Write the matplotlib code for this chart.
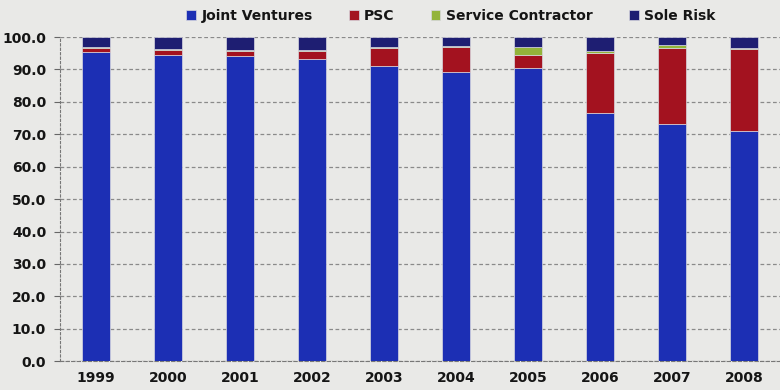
import matplotlib.pyplot as plt
import numpy as np

years = ["1999", "2000", "2001", "2002", "2003", "2004", "2005", "2006", "2007", "2008"]
joint_ventures = [95.3, 94.6, 94.0, 93.2, 91.2, 89.2, 90.5, 76.7, 73.3, 71.1]
psc = [1.4, 1.3, 1.6, 2.4, 5.4, 7.8, 4.0, 18.5, 23.4, 25.3]
service_contractor = [0.3, 0.5, 0.3, 0.3, 0.3, 0.2, 2.5, 0.5, 0.8, 0.2]
sole_risk = [3.0, 3.6, 4.1, 4.1, 3.1, 2.8, 3.0, 4.3, 2.5, 3.4]

series = [
    ("Joint Ventures", joint_ventures, "#1c2fb4"),
    ("PSC", psc, "#a3121f"),
    ("Service Contractor", service_contractor, "#93b43a"),
    ("Sole Risk", sole_risk, "#1e1e72"),
]

bg = "#e9e9e7"
fig = plt.figure(figsize=(7.8, 3.9), dpi=100, facecolor=bg)
ax = fig.add_axes([0.077, 0.074, 0.923, 0.831], facecolor=bg)

x = np.arange(len(years))
bottom = np.zeros(len(years))
for name, vals, col in series:
    ax.bar(x, vals, width=0.39, bottom=bottom, color=col, label=name,
           edgecolor="#d8d8e0", linewidth=0.5, zorder=3)
    bottom += np.array(vals)

ax.set_xlim(-0.5, len(years) - 0.5)
ax.set_ylim(0, 100)
ax.set_yticks(np.arange(0, 101, 10))
ax.set_yticklabels([f"{v:.1f}" for v in range(0, 101, 10)])
ax.set_xticks(x)
ax.set_xticklabels(years)
ax.yaxis.grid(True, linestyle=(0, (3, 2)), color="#8a8a8a", linewidth=0.9, zorder=0)

for lab in ax.get_yticklabels() + ax.get_xticklabels():
    lab.set_fontweight("bold")
    lab.set_fontsize(10)
    lab.set_color("#151515")
ax.tick_params(axis="x", length=0, pad=7)
ax.tick_params(axis="y", length=4, color="#666666", pad=6)

for side in ["top", "right"]:
    ax.spines[side].set_visible(False)
ax.spines["left"].set_linestyle((0, (2, 2)))
ax.spines["left"].set_color("#777777")
ax.spines["bottom"].set_linestyle((0, (3, 2)))
ax.spines["bottom"].set_color("#777777")

leg = fig.legend(loc="upper center", bbox_to_anchor=(0.578, 1.01), ncol=4,
                 frameon=False, handlelength=0.7, handleheight=0.7,
                 columnspacing=2.6, handletextpad=0.4,
                 prop={"weight": "bold", "size": 10})
for t in leg.get_texts():
    t.set_color("#151515")

fig.savefig("out.png", dpi=100, facecolor=bg)
